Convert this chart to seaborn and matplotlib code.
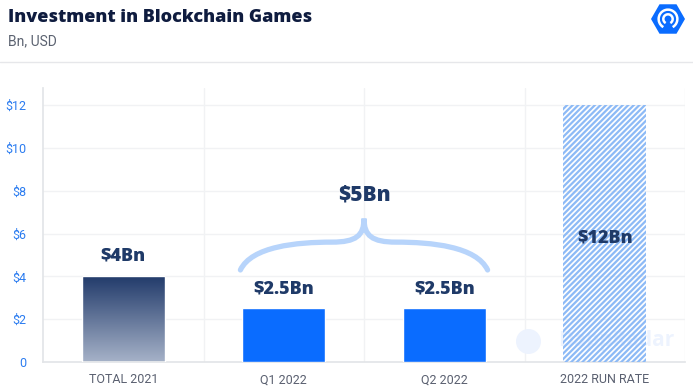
import numpy as np
import pandas as pd
import matplotlib
matplotlib.use("Agg")
import matplotlib.pyplot as plt
import seaborn as sns
from matplotlib.path import Path
from matplotlib.patches import PathPatch, RegularPolygon, Arc
from matplotlib.lines import Line2D

categories = ["TOTAL 2021", "Q1 2022", "Q2 2022", "2022 RUN RATE"]
values = [4, 2.5, 2.5, 12]
bar_labels = ["$4Bn", "$2.5Bn", "$2.5Bn", "$12Bn"]
yticks = [0, 2, 4, 6, 8, 10, 12]
ytick_labels = ["0", "$2", "$4", "$6", "$8", "$10", "$12"]
brace_label = "$5Bn"
title = "Investment in Blockchain Games"
subtitle = "Bn, USD"

sns.set_theme(style="white")
plt.rcParams["font.family"] = ["Roboto", "DejaVu Sans"]
plt.rcParams["hatch.linewidth"] = 1.6
BOLD = ["Open Sans", "DejaVu Sans"]

fig = plt.figure(figsize=(6.93, 3.87), dpi=100)
ax = fig.add_axes([43/693, 1-362/387, (685-43)/693, (362-88)/387])

df = pd.DataFrame({"cat": categories, "val": values})
palette = ["#3a5585", "#0a6cff", "#0a6cff", "#ffffff"]
sns.barplot(data=df, x="cat", y="val", hue="cat", palette=palette, legend=False,
            width=0.52, ax=ax, saturation=1, zorder=3)

ax.set_xlim(-0.5, 3.5)
ax.set_ylim(0, 12.8)

for y in yticks[1:]:
    ax.axhline(y, color="#f1f2f4", lw=1, zorder=0)
for x in [0.5, 1.5, 2.5, 3.5]:
    ax.axvline(x, color="#f1f2f4", lw=1, zorder=0)

patches = ax.patches
p0 = patches[0]
x0 = p0.get_x(); w0 = p0.get_width(); h0 = p0.get_height()
p0.set_facecolor("none")
top = np.array([0x22, 0x3b, 0x6b]) / 255
bot = np.array([0xa6, 0xb2, 0xc8]) / 255
t = np.linspace(0, 1, 256)[:, None]
grad = (top * (1 - t) + bot * t)[:, None, :]
im = ax.imshow(grad, extent=[x0, x0 + w0, 0, h0], aspect="auto", zorder=2.5,
               origin="upper")
im.set_clip_path(p0)
ax.set_aspect("auto")

p3 = patches[3]
p3.set_facecolor("none")
p3.set_edgecolor("#8dbaf6")
p3.set_hatch("//////")
p3.set_linewidth(0)

label_y = [4.55, 3.0, 3.0, 5.8]
for i, (lab, ly) in enumerate(zip(bar_labels, label_y)):
    ax.text(i, ly, lab, ha="center", va="bottom" if i < 3 else "center",
            fontsize=13, fontweight="heavy", family=BOLD, color="#1f3a68", zorder=5)

def brace_path(xl, xm, xr, yb, ymid, ytip):
    verts = [
        (xl, yb), (xl + 0.07, ymid - 0.2), (xl + 0.35, ymid), (xm - 0.2, ymid),
        (xm - 0.05, ymid), (xm, ymid + 0.3), (xm, ytip),
        (xm, ymid + 0.3), (xm + 0.05, ymid), (xm + 0.2, ymid),
        (xr - 0.35, ymid), (xr - 0.07, ymid - 0.2), (xr, yb),
    ]
    codes = [Path.MOVETO] + [Path.CURVE4] * 12
    return Path(verts, codes)

bp = brace_path(0.73, 1.5, 2.27, 4.3, 5.6, 6.7)
ax.add_patch(PathPatch(bp, fill=False, edgecolor="#b7d4fb", lw=3.8,
                       capstyle="round", zorder=4))
ax.text(1.5, 7.3, brace_label, ha="center", va="bottom", fontsize=15,
        fontweight="heavy", family=BOLD, color="#1f3a68", zorder=5)

# watermark
ax.text(3.07, 1.0, "DappRadar", ha="center", va="center", fontsize=15,
        fontweight="bold", family=BOLD, color="#edf3fe", zorder=1)
ax.add_artist(Line2D([2.52], [1.0], marker="o", markersize=17, color="#edf3fe",
                     linestyle="none", zorder=1))

ax.set_yticks(yticks)
ax.set_yticklabels(ytick_labels)
ax.set_xlabel("")
ax.set_ylabel("")
ax.tick_params(axis="y", colors="#2b7cf0", labelsize=9, length=0, pad=12)
ax.tick_params(axis="x", colors="#5a6070", labelsize=9, length=0, pad=8)
for s in ["top", "right"]:
    ax.spines[s].set_visible(False)
ax.spines["left"].set_color("#e3e5e8")
ax.spines["bottom"].set_color("#e3e5e8")

fig.text(8/693, 1-17/387, title, ha="left", va="center", fontsize=13,
         fontweight="heavy", family=BOLD, color="#0f1c3f")
fig.text(8/693, 1-41/387, subtitle, ha="left", va="center", fontsize=10,
         color="#5b6270")
fig.add_artist(Line2D([0, 1], [1-62/387, 1-62/387], color="#e6e7ea", lw=1))

lax = fig.add_axes([651/693, 1-36/387, 34/693, 34/387])
lax.set_xlim(-1, 1); lax.set_ylim(-1, 1); lax.set_aspect("equal"); lax.axis("off")
lax.add_patch(RegularPolygon((0, 0), 6, radius=1.0, orientation=np.pi/6,
                             facecolor="#0a6cff", edgecolor="none"))
lax.add_patch(Arc((0, 0), 1.1, 1.1, theta1=300, theta2=240, color="white", lw=1.8))
lax.add_patch(Arc((0, 0), 0.55, 0.55, theta1=300, theta2=240, color="white", lw=1.8))

fig.savefig("out.png", dpi=100, facecolor="white")
